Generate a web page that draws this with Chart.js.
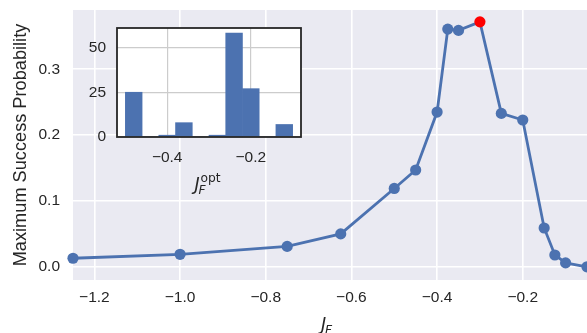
<!DOCTYPE html>
<html>
<head>
<meta charset="utf-8">
<script src="https://cdn.jsdelivr.net/npm/chart.js@4"></script>
<style>
    html, body { margin: 0; padding: 0; background: #ffffff; }
    #wrap { position: relative; width: 587px; height: 333px; overflow: hidden; }
    #mainChart { position: absolute; left: 0; top: 0; }
    #insetChart { position: absolute; left: 60px; top: 15px; }
</style>
</head>
<body>
<div id="wrap">
    <canvas id="mainChart" width="587" height="333"></canvas>
    <canvas id="insetChart" width="255" height="190"></canvas>
</div>
<script>
// --- DATA ---
const couplings = [-1.25, -1.0, -0.75, -0.625, -0.5, -0.45, -0.4, -0.375, -0.35, -0.3, -0.25, -0.2, -0.15, -0.125, -0.1, -0.05];
const successProb = [0.013, 0.019, 0.031, 0.050, 0.119, 0.147, 0.235, 0.361, 0.359, 0.372, 0.233, 0.223, 0.059, 0.018, 0.006, 0.000];
const mainXTicks = [-1.2, -1.0, -0.8, -0.6, -0.4, -0.2];
const mainYTicks = [0.0, 0.1, 0.2, 0.3];

const histEdges = [-0.50, -0.46, -0.42, -0.38, -0.34, -0.30, -0.26, -0.22, -0.18, -0.14, -0.10];
const histCounts = [25, 0, 1, 8, 0, 1, 58, 27, 0, 7];
const insetXTicks = [-0.4, -0.2];
const insetYTicks = [0, 25, 50];

// --- STYLE ---
const BLUE = '#4C72B0';
const TEXT = '#262626';
const TICK_FONT = { family: '"Liberation Sans", Arial, sans-serif', size: 15.5 };

function fmtMinus(v, digits) {
    return (v < 0 ? '\u2212' : '') + Math.abs(v).toFixed(digits);
}

// fixed axis sizes, no extra label padding
function fixSize(w, h) {
    return s => {
        if (w !== null) s.width = w;
        if (h !== null) s.height = h;
        s.paddingTop = 0; s.paddingBottom = 0;
        s.paddingLeft = 0; s.paddingRight = 0;
    };
}

// draws J with subscript F and optional superscript
function drawJLabel(ctx, cx, baseline, size, sup) {
    ctx.save();
    ctx.fillStyle = TEXT;
    ctx.textBaseline = 'alphabetic';
    ctx.textAlign = 'left';
    const small = size * 0.7;
    ctx.font = `italic ${size}px "DejaVu Sans"`;
    const wJ = ctx.measureText('J').width;
    ctx.font = `italic ${small}px "DejaVu Sans"`;
    const wF = ctx.measureText('F').width;
    let wS = 0;
    if (sup) {
        ctx.font = `${small}px "DejaVu Sans"`;
        wS = ctx.measureText(sup).width;
    }
    const x = cx - (wJ + Math.max(wF, wS)) / 2;
    ctx.font = `italic ${size}px "DejaVu Sans"`;
    ctx.fillText('J', x, baseline);
    ctx.font = `italic ${small}px "DejaVu Sans"`;
    ctx.fillText('F', x + wJ - 1, baseline + size * 0.2);
    if (sup) {
        ctx.font = `${small}px "DejaVu Sans"`;
        ctx.fillText(sup, x + wJ + 1, baseline - size * 0.45);
    }
    ctx.restore();
}

// --- MAIN CHART ---
const peakIdx = successProb.indexOf(Math.max(...successProb));
const pointColors = successProb.map((v, i) => i === peakIdx ? '#ff0000' : BLUE);

const mainBg = {
    id: 'mainBg',
    beforeDraw(chart) {
        const { ctx, chartArea: a } = chart;
        ctx.save();
        ctx.fillStyle = '#ffffff';
        ctx.fillRect(0, 0, chart.width, chart.height);
        ctx.fillStyle = '#EAEAF2';
        ctx.fillRect(a.left, a.top, a.right - a.left, a.bottom - a.top);
        ctx.restore();
    },
    afterDraw(chart) {
        const a = chart.chartArea;
        drawJLabel(chart.ctx, (a.left + a.right) / 2 - 3, 330, 17.5, null);
    }
};

new Chart(document.getElementById('mainChart').getContext('2d'), {
    type: 'line',
    data: {
        datasets: [{
            data: couplings.map((x, i) => ({ x: x, y: successProb[i] })),
            borderColor: BLUE,
            borderWidth: 2.8,
            pointRadius: 5.6,
            pointBorderWidth: 0,
            pointBackgroundColor: pointColors,
            tension: 0,
            clip: false
        }]
    },
    options: {
        responsive: false,
        animation: false,
        layout: { autoPadding: false, padding: { left: 0, right: 0, top: 10, bottom: 0 } },
        plugins: { legend: { display: false }, tooltip: { enabled: false } },
        scales: {
            x: {
                type: 'linear',
                min: -1.25, max: -0.05,
                border: { display: false },
                grid: { color: '#ffffff', lineWidth: 1.6, drawTicks: false },
                afterBuildTicks: s => { s.ticks = mainXTicks.map(v => ({ value: v })); },
                afterFit: fixSize(null, 53),
                ticks: { color: TEXT, font: TICK_FONT, padding: 8, maxRotation: 0, callback: v => fmtMinus(v, 1) }
            },
            y: {
                type: 'linear',
                min: -0.02, max: 0.39,
                border: { display: false },
                grid: { color: '#ffffff', lineWidth: 1.6, drawTicks: false },
                afterBuildTicks: s => { s.ticks = mainYTicks.map(v => ({ value: v })); },
                afterFit: fixSize(73, null),
                ticks: { color: TEXT, font: TICK_FONT, padding: 13, callback: v => fmtMinus(v, 1) },
                title: {
                    display: true,
                    text: 'Maximum Success Probability',
                    color: TEXT,
                    font: { family: '"Liberation Sans", Arial, sans-serif', size: 18.2 },
                    padding: { top: 10, bottom: 0 }
                }
            }
        }
    },
    plugins: [mainBg]
});

// --- INSET HISTOGRAM ---
const binCenters = histCounts.map((c, i) => (histEdges[i] + histEdges[i + 1]) / 2);

const insetFrame = {
    id: 'insetFrame',
    beforeDraw(chart) {
        const { ctx, chartArea: a } = chart;
        ctx.save();
        ctx.fillStyle = '#ffffff';
        ctx.fillRect(a.left, a.top, a.right - a.left, a.bottom - a.top);
        ctx.restore();
    },
    afterDraw(chart) {
        const { ctx, chartArea: a } = chart;
        ctx.save();
        ctx.strokeStyle = TEXT;
        ctx.lineWidth = 1.8;
        ctx.strokeRect(a.left, a.top, a.right - a.left, a.bottom - a.top);
        ctx.restore();
        drawJLabel(ctx, (a.left + a.right) / 2 - 2, a.bottom + 53, 17.5, 'opt');
    }
};

new Chart(document.getElementById('insetChart').getContext('2d'), {
    type: 'bar',
    data: {
        datasets: [{
            data: binCenters.map((x, i) => ({ x: x, y: histCounts[i] })),
            backgroundColor: BLUE,
            borderWidth: 0,
            barPercentage: 1.0,
            categoryPercentage: 1.0
        }]
    },
    options: {
        responsive: false,
        animation: false,
        layout: { autoPadding: false, padding: { left: 0, right: 14, top: 13, bottom: 0 } },
        plugins: { legend: { display: false }, tooltip: { enabled: false } },
        scales: {
            x: {
                type: 'linear',
                offset: false,
                min: -0.52, max: -0.08,
                border: { display: false },
                grid: { color: '#cccccc', lineWidth: 1.2, drawTicks: false, offset: false },
                afterBuildTicks: s => { s.ticks = insetXTicks.map(v => ({ value: v })); },
                afterFit: fixSize(null, 68),
                ticks: { color: TEXT, font: TICK_FONT, padding: 11, maxRotation: 0, callback: v => fmtMinus(v, 1) }
            },
            y: {
                type: 'linear',
                min: 0, max: 60.9,
                border: { display: false },
                grid: { color: '#cccccc', lineWidth: 1.2, drawTicks: false },
                afterBuildTicks: s => { s.ticks = insetYTicks.map(v => ({ value: v })); },
                afterFit: fixSize(57, null),
                ticks: { color: TEXT, font: TICK_FONT, padding: 11, callback: v => String(v) }
            }
        }
    },
    plugins: [insetFrame]
});
</script>
</body>
</html>
